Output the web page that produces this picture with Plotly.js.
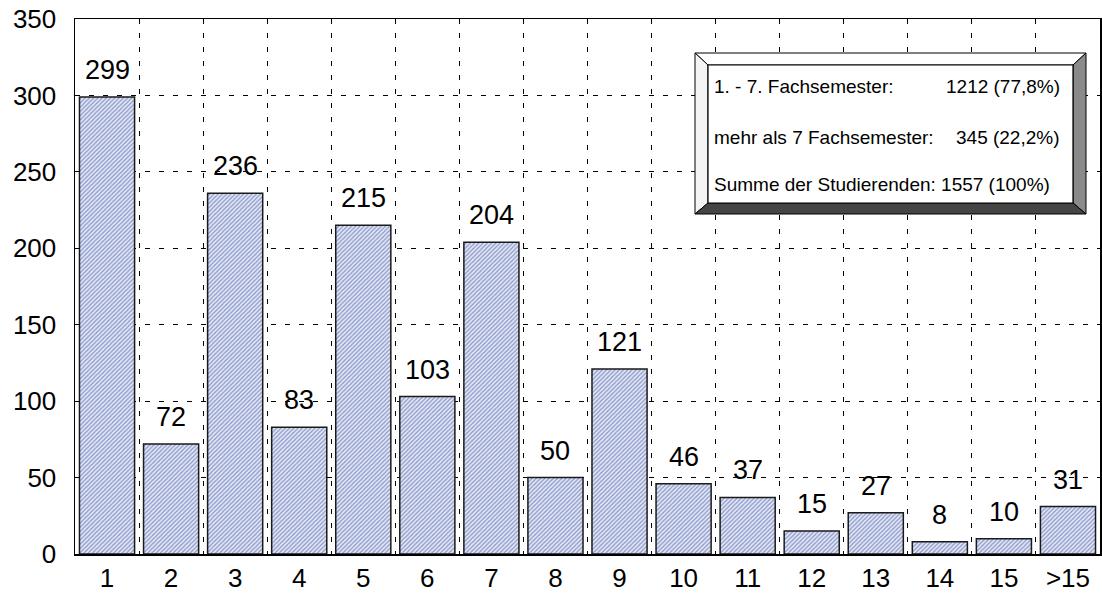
<!DOCTYPE html>
<html>
<head>
<meta charset="utf-8">
<script src="https://cdn.plot.ly/plotly-3.0.1.min.js"></script>
<style>html,body{margin:0;padding:0;background:#fff;}#chart{width:1102px;height:598px;}</style>
</head>
<body>
<div id="chart"></div>
<script>
const categories = ["1","2","3","4","5","6","7","8","9","10","11","12","13","14","15",">15"];
const students = [299,72,236,83,215,103,204,50,121,46,37,15,27,8,10,31];

const boxLabels = ["1. - 7. Fachsemester:", "mehr als 7 Fachsemester:", "Summe der Studierenden: 1557 (100%)"];
const boxValues = ["1212 (77,8%)", "345 (22,2%)", ""];

const W = 1102, H = 598;
const M = {l: 75, r: 2, t: 19, b: 44};
const pw = W - M.l - M.r, ph = H - M.t - M.b;
const px = x => (x - M.l) / pw;
const py = y => (H - M.b - y) / ph;

const font = "Liberation Sans, Arial, Helvetica, sans-serif";

const trace = {
  type: "bar",
  x: categories,
  y: students,
  width: 0.86,
  marker: {
    color: "#e2e6f4",
    line: {color: "#1a1a1a", width: 1.5},
    pattern: {shape: "/", fgcolor: "#8794c8", bgcolor: "#e4e8f5", size: 3, solidity: 0.4}
  },
  hoverinfo: "skip"
};

const annotations = categories.map((c, i) => ({
  x: i, y: students[i], xref: "x", yref: "y",
  text: String(students[i]), showarrow: false,
  yanchor: "bottom", yshift: 10,
  font: {family: font, size: 27, color: "#000"}
}));

// legend box rectangle (pixels)
const o = {x0: 695, y0: 53, x1: 1086, y1: 214};
const inr = {x0: 708, y0: 65, x1: 1073, y1: 203};
const P = (x, y) => px(x) + "," + py(y);
const shapes = [
  {type: "path", xref: "paper", yref: "paper", path: `M${P(o.x0,o.y0)} L${P(o.x1,o.y0)} L${P(inr.x1,inr.y0)} L${P(inr.x0,inr.y0)} Z`, fillcolor: "#ffffff", line: {color: "#000", width: 1}},
  {type: "path", xref: "paper", yref: "paper", path: `M${P(o.x0,o.y0)} L${P(inr.x0,inr.y0)} L${P(inr.x0,inr.y1)} L${P(o.x0,o.y1)} Z`, fillcolor: "#f4f4f4", line: {color: "#000", width: 1}},
  {type: "path", xref: "paper", yref: "paper", path: `M${P(o.x1,o.y0)} L${P(o.x1,o.y1)} L${P(inr.x1,inr.y1)} L${P(inr.x1,inr.y0)} Z`, fillcolor: "#8a8a8a", line: {color: "#000", width: 1}},
  {type: "path", xref: "paper", yref: "paper", path: `M${P(o.x0,o.y1)} L${P(inr.x0,inr.y1)} L${P(inr.x1,inr.y1)} L${P(o.x1,o.y1)} Z`, fillcolor: "#454545", line: {color: "#000", width: 1}},
  {type: "rect", xref: "paper", yref: "paper", x0: px(inr.x0), x1: px(inr.x1), y0: py(inr.y1), y1: py(inr.y0), fillcolor: "#ffffff", line: {color: "#000", width: 1.2}}
];

const rowY = [87, 137, 185];
boxLabels.forEach((t, i) => {
  if (t) annotations.push({xref: "paper", yref: "paper", x: px(712), y: py(rowY[i]), xanchor: "left", yanchor: "middle",
    text: t, showarrow: false, font: {family: font, size: 19, color: "#000"}});
  if (boxValues[i]) annotations.push({xref: "paper", yref: "paper", x: px(1062), y: py(rowY[i]), xanchor: "right", yanchor: "middle",
    text: boxValues[i], showarrow: false, font: {family: font, size: 19, color: "#000"}});
});

const layout = {
  width: W, height: H,
  margin: M,
  paper_bgcolor: "#fff", plot_bgcolor: "#fff",
  showlegend: false,
  xaxis: {
    type: "category",
    tickson: "boundaries",
    showgrid: true, gridcolor: "#000", gridwidth: 1, griddash: "5px,9px",
    showline: true, linecolor: "#000", linewidth: 1.5, mirror: true,
    ticks: "", tickfont: {family: font, size: 26, color: "#000"},
    range: [-0.5, 15.5], fixedrange: true
  },
  yaxis: {
    range: [0, 350], dtick: 50, tick0: 0,
    showgrid: true, gridcolor: "#000", gridwidth: 1, griddash: "5px,9px",
    zeroline: false,
    showline: true, linecolor: "#000", linewidth: 1.5, mirror: true,
    ticks: "inside", ticklen: 5, tickcolor: "#000",
    tickfont: {family: font, size: 26, color: "#000"}, ticklabelstandoff: 12
  },
  annotations: annotations,
  shapes: shapes
};

Plotly.newPlot("chart", [trace], layout, {staticPlot: true, displayModeBar: false});
</script>
</body>
</html>
